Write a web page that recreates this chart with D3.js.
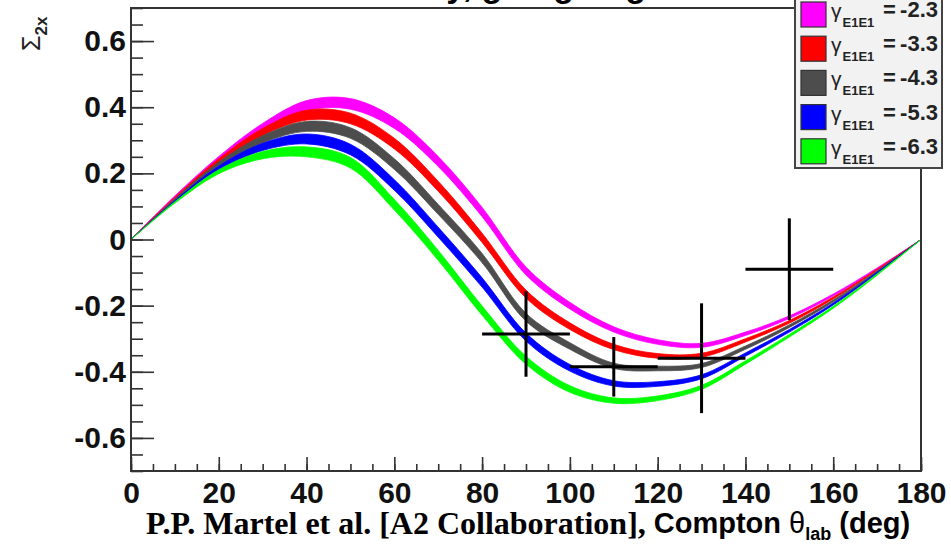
<!DOCTYPE html>
<html>
<head>
<meta charset="utf-8">
<script src="https://cdn.jsdelivr.net/npm/d3@7"></script>
<style>
  html, body { margin: 0; padding: 0; background: #fff; }
  svg { display: block; }
</style>
</head>
<body>
<svg id="chart" width="951" height="548"></svg>
<script>
// ---------- data ----------
const angles = [0, 10, 20, 30, 40, 50, 60, 70, 80, 90, 100, 110, 120, 130, 140, 150, 160, 170, 180];
const gammaLabels = ["-2.3", "-3.3", "-4.3", "-5.3", "-6.3"];
const bandColors = ["#ff00ff", "#ff0000", "#4d4d4d", "#0000ff", "#00ff00"];
// band centre values (Sigma_2x) for each gamma_E1E1
const sigmaM = [0, 0.130, 0.245, 0.340, 0.405, 0.410, 0.352, 0.236, 0.083, -0.095, -0.200, -0.272, -0.310, -0.320, -0.285, -0.235, -0.168, -0.088, 0];
const sigmaR = [0, 0.126, 0.238, 0.325, 0.376, 0.366, 0.290, 0.161, 0.005, -0.165, -0.262, -0.325, -0.352, -0.350, -0.305, -0.249, -0.177, -0.092, 0];
const sigmaK = [0, 0.121, 0.228, 0.303, 0.342, 0.322, 0.228, 0.091, -0.056, -0.235, -0.322, -0.382, -0.390, -0.381, -0.327, -0.262, -0.186, -0.097, 0];
const sigmaB = [0, 0.116, 0.216, 0.280, 0.304, 0.272, 0.165, 0.022, -0.130, -0.295, -0.388, -0.435, -0.437, -0.415, -0.348, -0.276, -0.195, -0.101, 0];
const sigmaG = [0, 0.112, 0.205, 0.255, 0.265, 0.232, 0.105, -0.048, -0.215, -0.365, -0.452, -0.487, -0.480, -0.447, -0.372, -0.291, -0.205, -0.106, 0];
// half width of each band
const bandHalf = [0, 0.002, 0.006, 0.011, 0.015, 0.016, 0.016, 0.015, 0.014, 0.012, 0.010, 0.008, 0.007, 0.006, 0.005, 0.004, 0.003, 0.002, 0];
// measured points
const dataTheta = [90, 110, 130, 150];
const dataSigma = [-0.286, -0.385, -0.359, -0.090];
const dataErr = [0.129, 0.090, 0.166, 0.154];
const dataThetaErr = [10, 10, 10, 10];
const xTicks = [0, 20, 40, 60, 80, 100, 120, 140, 160, 180];
const yTicks = [-0.6, -0.4, -0.2, 0, 0.2, 0.4, 0.6];

// ---------- layout ----------
const svg = d3.select("#chart");
const x = d3.scaleLinear().domain([0, 180]).range([131, 921]);
const y = d3.scaleLinear().domain([-0.7, 0.7]).range([471, 8]);
const sans = "'Liberation Sans', Arial, Helvetica, sans-serif";

// title (cut off at the top of the picture)
svg.append("text")
  .attr("x", 480).attr("y", -3)
  .attr("text-anchor", "middle")
  .attr("font-family", sans).attr("font-weight", "bold").attr("font-size", 34)
  .text("Sensitivity, going large");

// bands
const series = [sigmaM, sigmaR, sigmaK, sigmaB, sigmaG];
const area = d3.area()
  .x(d => x(d.t))
  .y0(d => y(d.v - d.h))
  .y1(d => y(d.v + d.h))
  .curve(d3.curveCatmullRom.alpha(0.5));
series.forEach((s, i) => {
  const pts = angles.map((t, j) => ({ t, v: s[j], h: bandHalf[j] }));
  svg.append("path").datum(pts)
    .attr("d", area)
    .attr("fill", bandColors[i])
    .attr("stroke", bandColors[i])
    .attr("stroke-width", 0.8);
});

// data crosses
const pts = dataTheta.map((t, i) => ({ t, v: dataSigma[i], e: dataErr[i], ex: dataThetaErr[i] }));
const g = svg.append("g").attr("stroke", "#000").attr("stroke-width", 3);
g.selectAll("line.h").data(pts).join("line").attr("class", "h")
  .attr("x1", d => x(d.t - d.ex)).attr("x2", d => x(d.t + d.ex))
  .attr("y1", d => y(d.v)).attr("y2", d => y(d.v));
g.selectAll("line.v").data(pts).join("line").attr("class", "v")
  .attr("x1", d => x(d.t)).attr("x2", d => x(d.t))
  .attr("y1", d => y(d.v - d.e)).attr("y2", d => y(d.v + d.e));

// axes
const axisColor = "#333";
const xMinor = svg.append("g").attr("transform", "translate(0,471)")
  .call(d3.axisBottom(x).tickValues(d3.range(0, 181, 5)).tickSize(-7).tickFormat(""));
const xMajor = svg.append("g").attr("transform", "translate(0,471)")
  .call(d3.axisBottom(x).tickValues(xTicks).tickSize(-14).tickPadding(11).tickFormat(d3.format("d")));
const yMinor = svg.append("g").attr("transform", "translate(131,0)")
  .call(d3.axisLeft(y).tickValues(d3.range(-0.7, 0.7001, 0.05)).tickSize(-12).tickFormat(""));
const yMajor = svg.append("g").attr("transform", "translate(131,0)")
  .call(d3.axisLeft(y).tickValues(yTicks).tickSize(-23).tickPadding(5).tickFormat(d => d === 0 ? "0" : d3.format(".1f")(d)));
[xMinor, xMajor, yMinor, yMajor].forEach(a => {
  a.selectAll("path").remove();
  a.selectAll("line").attr("stroke", axisColor).attr("stroke-width", 1.6);
  a.selectAll("text").attr("fill", "#111").attr("font-family", sans)
    .attr("font-weight", "bold").attr("font-size", 30);
});
yMajor.selectAll("text").text(d => d === 0 ? "0" : d3.format(".1f")(d).replace("−", "-"));

// frame
svg.append("rect")
  .attr("x", 131).attr("y", 8).attr("width", 790).attr("height", 463)
  .attr("fill", "none").attr("stroke", axisColor).attr("stroke-width", 2);

// y label  Sigma_2x
const yl = svg.append("text")
  .attr("transform", "translate(40,51) rotate(-90)")
  .attr("font-family", sans).attr("font-size", 25).attr("fill", "#222");
yl.append("tspan").text("Σ");
yl.append("tspan").attr("dy", 7).attr("font-size", 17).attr("font-weight", "bold").text("2x");

// x label: citation (serif) + axis title (sans)
const xl = svg.append("text").attr("x", 146).attr("y", 534).attr("fill", "#000")
  .attr("font-weight", "bold");
xl.append("tspan").attr("font-family", "'Liberation Serif', 'Times New Roman', serif")
  .attr("font-size", 32).text("P.P. Martel et al. [A2 Collaboration], ");
xl.append("tspan").attr("font-family", sans).attr("font-size", 29).attr("dy", -1).text("Compton ");
xl.append("tspan").attr("font-family", sans).attr("font-size", 29).attr("font-weight", "normal").text("θ");
xl.append("tspan").attr("font-family", sans).attr("font-size", 18).attr("dy", 7).text("lab");
xl.append("tspan").attr("font-family", sans).attr("font-size", 29).attr("dy", -7).text(" (deg)");

// legend
const lg = svg.append("g");
lg.append("rect").attr("x", 795).attr("y", -4).attr("width", 147).attr("height", 172)
  .attr("fill", "#f2f2f2").attr("stroke", "#444").attr("stroke-width", 2);
gammaLabels.forEach((lab, i) => {
  const cy = 14 + i * 34.2;
  lg.append("rect").attr("x", 801).attr("y", cy - 12).attr("width", 25).attr("height", 25)
    .attr("fill", bandColors[i]).attr("stroke", "#333").attr("stroke-width", 1.2);
  const t = lg.append("text").attr("x", 831).attr("y", cy + 4).attr("font-family", sans).attr("fill", "#222");
  t.append("tspan").attr("font-size", 21).text("γ");
  t.append("tspan").attr("font-size", 13).attr("font-weight", "bold").attr("dy", 9).attr("dx", 1).text("E1E1");
  lg.append("text").attr("x", 883).attr("y", cy + 3)
    .attr("font-family", sans).attr("font-weight", "bold").attr("font-size", 22).attr("fill", "#222")
    .text("=");
  lg.append("text").attr("x", 938).attr("y", cy + 3).attr("text-anchor", "end")
    .attr("font-family", sans).attr("font-weight", "bold").attr("font-size", 22).attr("fill", "#222")
    .text(lab);
});
</script>
</body>
</html>
